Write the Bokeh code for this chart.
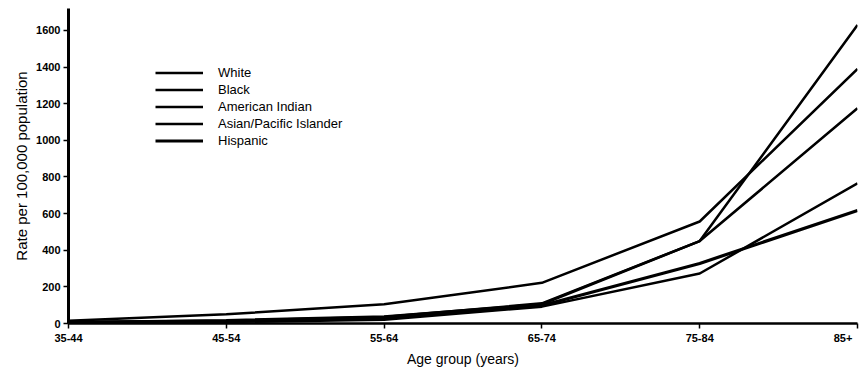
from bokeh.embed import file_html
from bokeh.resources import INLINE
from bokeh.plotting import figure
from bokeh.models import Range1d, FixedTicker, Legend, LegendItem, Title

# Age groups and death rates per 100,000 by race/ethnicity
age_groups = ["35-44", "45-54", "55-64", "65-74", "75-84", "85+"]
white = [8, 15, 35, 110, 450, 1630]
black = [15, 50, 105, 222, 557, 1390]
american_indian = [6, 18, 38, 105, 450, 1175]
asian_pacific = [3, 8, 20, 92, 273, 765]
hispanic = [5, 12, 28, 98, 328, 617]
y_ticks = [0, 200, 400, 600, 800, 1000, 1200, 1400, 1600]

FONT = "Liberation Sans"
xs = list(range(len(age_groups)))

p = figure(
    width=861, height=369,
    output_backend="svg", toolbar_location=None,
    x_range=Range1d(0, len(age_groups) - 1),
    y_range=Range1d(0, 1720),
    min_border_left=68, min_border_right=4,
    min_border_top=8, min_border_bottom=40,
)
p.outline_line_color = None
p.xgrid.visible = False
p.ygrid.visible = False
p.background_fill_color = "white"
p.border_fill_color = "white"

series = [
    ("White", white, 2.5),
    ("Black", black, 2.5),
    ("American Indian", american_indian, 2.6),
    ("Asian/Pacific Islander", asian_pacific, 2.5),
    ("Hispanic", hispanic, 3.2),
]
items = []
for name, vals, w in series:
    r = p.line(xs, vals, line_color="black", line_width=w)
    items.append(LegendItem(label=name, renderers=[r]))

legend = Legend(
    items=items,
    location=(87, 174),
    border_line_color=None,
    background_fill_alpha=0,
    padding=0, margin=0, spacing=0,
    glyph_width=48, glyph_height=17,
    label_height=17, label_standoff=15,
    label_text_font=FONT, label_text_font_size="13px",
    label_text_color="black",
)
p.add_layout(legend)

# x axis; the last label is padded so it ends at its tick instead of the page edge
p.xaxis.ticker = FixedTicker(ticks=xs)
overrides = {i: lab for i, lab in enumerate(age_groups)}
overrides[len(age_groups) - 1] = age_groups[-1] + "\u00a0\u00a0\u00a0"
p.xaxis.major_label_overrides = overrides
p.xaxis.minor_tick_line_color = None
p.xaxis.major_tick_in = 0
p.xaxis.major_tick_out = 5
p.xaxis.major_tick_line_width = 1.5
p.xaxis.axis_line_width = 2.5
p.xaxis.axis_line_color = "black"
p.xaxis.major_label_standoff = 3
p.xaxis.major_label_text_font = FONT
p.xaxis.major_label_text_font_size = "11px"
p.xaxis.major_label_text_font_style = "bold"
p.xaxis.major_label_text_color = "black"
p.xaxis.axis_label = "Age group (years)"
p.xaxis.axis_label_text_font = FONT
p.xaxis.axis_label_text_font_size = "14px"
p.xaxis.axis_label_text_font_style = "normal"
p.xaxis.axis_label_text_color = "black"
p.xaxis.axis_label_standoff = 4

# y axis
p.yaxis.ticker = FixedTicker(ticks=y_ticks)
p.yaxis.minor_tick_line_color = None
p.yaxis.major_tick_in = 0
p.yaxis.major_tick_out = 5
p.yaxis.major_tick_line_width = 1.5
p.yaxis.axis_line_width = 3
p.yaxis.axis_line_color = "black"
p.yaxis.major_label_standoff = 3
p.yaxis.major_label_text_font = FONT
p.yaxis.major_label_text_font_size = "11px"
p.yaxis.major_label_text_font_style = "bold"
p.yaxis.major_label_text_color = "black"

# vertical axis title, nudged upward from the frame centre
p.add_layout(Title(
    text="Rate per 100,000 population", align="center", offset=15,
    text_font=FONT, text_font_size="15px", text_font_style="normal",
    text_color="black", standoff=8,
), "left")

open("out.html", "w").write(file_html(p, INLINE))
